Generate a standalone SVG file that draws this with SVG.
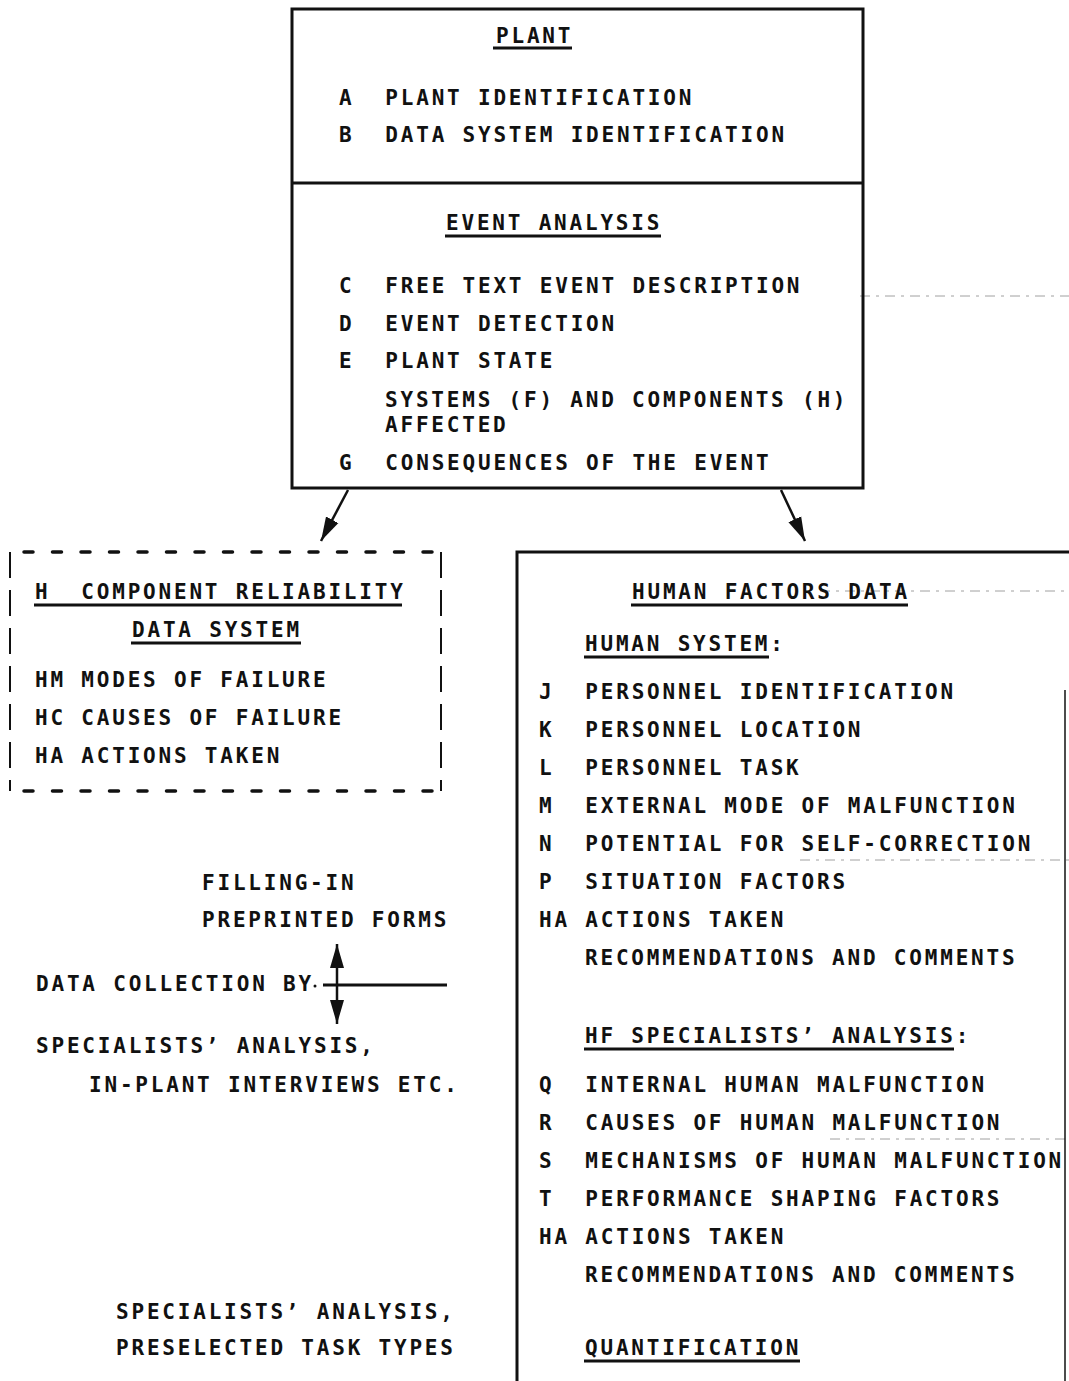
<svg xmlns="http://www.w3.org/2000/svg" width="1069" height="1381" viewBox="0 0 1069 1381" xml:space="preserve">
<style>
.t{font-family:"DejaVu Sans Mono","Liberation Mono",monospace;font-weight:bold;font-size:21px;letter-spacing:2.8px;fill:#111;white-space:pre}
.ul{stroke:#111;stroke-width:3;fill:none}
.box{stroke:#111;stroke-width:3;fill:none}
.con{stroke:#111;stroke-width:2.5;fill:none}
.faint{stroke:#777;stroke-width:1;stroke-dasharray:10 6 3 6;fill:none;opacity:0.7}
</style>
<defs>
<marker id="ah" markerUnits="userSpaceOnUse" markerWidth="26" markerHeight="18" refX="24" refY="8" orient="auto-start-reverse">
<path d="M0,1 L24,8 L0,15 Z" fill="#111"/>
</marker>
</defs>
<rect width="1069" height="1381" fill="#fff"/>

<g id="faint-lines">
<line class="faint" x1="860" y1="296" x2="1069" y2="296"/>
<line class="faint" x1="820" y1="591" x2="1069" y2="591"/>
<line class="faint" x1="800" y1="860" x2="1069" y2="860"/>
<line class="faint" x1="830" y1="1139" x2="1069" y2="1139"/>
</g>

<g id="plant">
<rect class="box" x="292" y="9" width="571" height="479"/>
<line class="box" x1="292" y1="183" x2="863" y2="183"/>
<text class="t" x="496" y="43">PLANT</text>
<line class="ul" x1="493" y1="48" x2="572" y2="48"/>
<text class="t" x="339" y="105">A  PLANT IDENTIFICATION</text>
<text class="t" x="339" y="142">B  DATA SYSTEM IDENTIFICATION</text>
<text class="t" x="446" y="230">EVENT ANALYSIS</text>
<line class="ul" x1="445" y1="236" x2="661" y2="236"/>
<text class="t" x="339" y="293">C  FREE TEXT EVENT DESCRIPTION</text>
<text class="t" x="339" y="331">D  EVENT DETECTION</text>
<text class="t" x="339" y="368">E  PLANT STATE</text>
<text class="t" x="385" y="407">SYSTEMS (F) AND COMPONENTS (H)</text>
<text class="t" x="385" y="432">AFFECTED</text>
<text class="t" x="339" y="470">G  CONSEQUENCES OF THE EVENT</text>
</g>

<g id="component-reliability">
<line x1="10" y1="552" x2="441" y2="552" stroke="#111" stroke-width="3.5" stroke-dasharray="9 19.5" stroke-dashoffset="-14" stroke-linecap="round"/>
<line x1="10" y1="791" x2="441" y2="791" stroke="#111" stroke-width="3.5" stroke-dasharray="9 19.5" stroke-dashoffset="-14" stroke-linecap="round"/>
<line x1="10" y1="552" x2="10" y2="791" stroke="#111" stroke-width="2" stroke-dasharray="26 12"/>
<line x1="441" y1="552" x2="441" y2="791" stroke="#111" stroke-width="2" stroke-dasharray="26 12"/>
<text class="t" x="35" y="599">H  COMPONENT RELIABILITY</text>
<line class="ul" x1="34" y1="605" x2="402" y2="605"/>
<text class="t" x="132" y="637">DATA SYSTEM</text>
<line class="ul" x1="131" y1="643" x2="301" y2="643"/>
<text class="t" x="35" y="687">HM MODES OF FAILURE</text>
<text class="t" x="35" y="725">HC CAUSES OF FAILURE</text>
<text class="t" x="35" y="763">HA ACTIONS TAKEN</text>
</g>

<g id="human-factors">
<polyline class="box" points="517,1381 517,552 1069,552"/>
<line x1="1065" y1="690" x2="1065" y2="1381" stroke="#111" stroke-width="1.5"/>
<text class="t" x="632" y="599">HUMAN FACTORS DATA</text>
<line class="ul" x1="631" y1="605" x2="908" y2="605"/>
<text class="t" x="585" y="651">HUMAN SYSTEM:</text>
<line class="ul" x1="584" y1="657" x2="769" y2="657"/>
<text class="t" x="539" y="699">J  PERSONNEL IDENTIFICATION</text>
<text class="t" x="539" y="737">K  PERSONNEL LOCATION</text>
<text class="t" x="539" y="775">L  PERSONNEL TASK</text>
<text class="t" x="539" y="813">M  EXTERNAL MODE OF MALFUNCTION</text>
<text class="t" x="539" y="851">N  POTENTIAL FOR SELF-CORRECTION</text>
<text class="t" x="539" y="889">P  SITUATION FACTORS</text>
<text class="t" x="539" y="927">HA ACTIONS TAKEN</text>
<text class="t" x="585" y="965">RECOMMENDATIONS AND COMMENTS</text>
<text class="t" x="585" y="1043">HF SPECIALISTS’ ANALYSIS:</text>
<line class="ul" x1="584" y1="1049" x2="954" y2="1049"/>
<text class="t" x="539" y="1092">Q  INTERNAL HUMAN MALFUNCTION</text>
<text class="t" x="539" y="1130">R  CAUSES OF HUMAN MALFUNCTION</text>
<text class="t" x="539" y="1168">S  MECHANISMS OF HUMAN MALFUNCTION</text>
<text class="t" x="539" y="1206">T  PERFORMANCE SHAPING FACTORS</text>
<text class="t" x="539" y="1244">HA ACTIONS TAKEN</text>
<text class="t" x="585" y="1282">RECOMMENDATIONS AND COMMENTS</text>
<text class="t" x="585" y="1355">QUANTIFICATION</text>
<line class="ul" x1="584" y1="1361" x2="800" y2="1361"/>
</g>

<g id="data-collection">
<text class="t" x="202" y="890">FILLING-IN</text>
<text class="t" x="202" y="927">PREPRINTED FORMS</text>
<text class="t" x="36" y="991">DATA COLLECTION BY</text>
<text class="t" x="36" y="1053">SPECIALISTS’ ANALYSIS,</text>
<text class="t" x="89" y="1092">IN-PLANT INTERVIEWS ETC.</text>
<text class="t" x="116" y="1319">SPECIALISTS’ ANALYSIS,</text>
<text class="t" x="116" y="1355">PRESELECTED TASK TYPES</text>
</g>

<g id="connectors">
<line class="con" x1="348" y1="490" x2="321" y2="541" marker-end="url(#ah)"/>
<line class="con" x1="781" y1="490" x2="805" y2="541" marker-end="url(#ah)"/>
<line class="con" x1="337" y1="944" x2="337" y2="1024" marker-start="url(#ah)" marker-end="url(#ah)"/>
<line x1="323" y1="985" x2="447" y2="985" stroke="#111" stroke-width="3"/>
<circle cx="315" cy="986" r="1.5" fill="#111"/>
</g>
</svg>
